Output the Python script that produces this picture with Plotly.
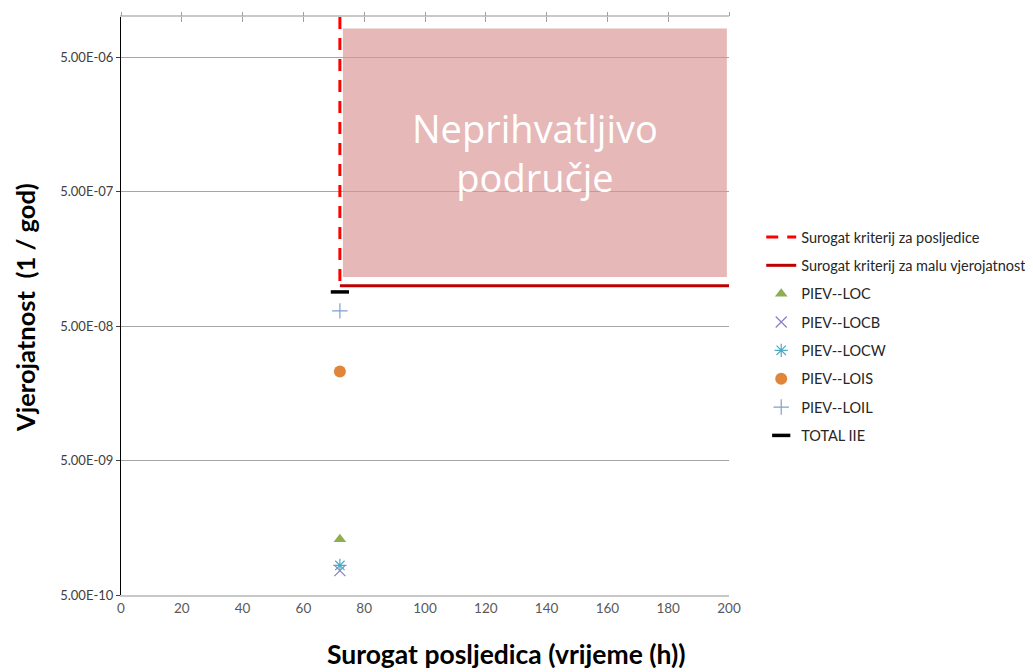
import plotly.graph_objects as go
import numpy as np

# ---- data ----
x_crit = 72            # surrogate consequence criterion (h)
y_crit = 1e-7          # surrogate low-probability criterion
x_max = 200
y_top = 1e-5
region_x = [73, 199.3]
region_y = [1.16e-7, 8.2e-6]
region_label = "Neprihvatljivo<br>područje"

series_names = ["PIEV--LOC", "PIEV--LOCB", "PIEV--LOCW", "PIEV--LOIS", "PIEV--LOIL", "TOTAL IIE"]
series_x = [72, 72, 72, 72, 72, 72]
series_y = [1.3e-9, 7.6e-10, 8.3e-10, 2.3e-8, 6.5e-8, 9.0e-8]

x_ticks = [0, 20, 40, 60, 80, 100, 120, 140, 160, 180, 200]
y_ticks = [5e-10, 5e-9, 5e-8, 5e-7, 5e-6]
y_ticktext = ["5.00E-10", "5.00E-09", "5.00E-08", "5.00E-07", "5.00E-06"]

# ---- styles ----
symbols = ["triangle-up", "x-thin-open", "asterisk-open", "circle", "cross-thin-open", "line-ew-open"]
colors = ["#8FAE52", "#8E7CC3", "#4BACC6", "#E0853A", "#7F9FCF", "#000000"]
sizes = [11, 11, 11, 12, 11, 13]
lwidths = [0, 1.2, 1.2, 0, 1.2, 3.5]

FONT = "Lato"
fig = go.Figure()

fig.add_shape(type="rect", x0=region_x[0], x1=region_x[1], y0=region_y[0], y1=region_y[1],
              xref="x", yref="y", fillcolor="#E6B8B7", line=dict(width=0), layer="below")
fig.add_annotation(x=float(np.mean(region_x)), y=float(np.mean(np.log10(region_y))),
                   xref="x", yref="y", text=region_label, showarrow=False,
                   font=dict(family="Open Sans", size=38, color="white"))

fig.add_trace(go.Scatter(x=[x_crit, x_crit], y=[y_top, y_crit], mode="lines",
                         name="Surogat kriterij za posljedice", legendgroup="a",
                         line=dict(color="#FF0000", width=3, dash="12px,9px")))
fig.add_trace(go.Scatter(x=[x_crit, x_max], y=[y_crit, y_crit], mode="lines",
                         name="Surogat kriterij za malu vjerojatnost", legendgroup="b",
                         line=dict(color="#C00000", width=3)))
for i, n in enumerate(series_names):
    fig.add_trace(go.Scatter(x=[series_x[i]], y=[series_y[i]], mode="markers", name=n,
                             legendgroup="g%d" % i,
                             marker=dict(symbol=symbols[i], color=colors[i], size=sizes[i],
                                         line=dict(color=colors[i], width=lwidths[i]))))

# dummy traces for top axes
for ax in ["x2", "x3"]:
    fig.add_trace(go.Scatter(x=[0], y=[1e-9], xaxis=ax, mode="markers", showlegend=False,
                             marker=dict(opacity=0), hoverinfo="skip"))

W, H = 1025, 664  # page body adds an 8px margin
fig.update_layout(
    width=W, height=H,
    margin=dict(l=113, r=304, t=9, b=77, autoexpand=False),
    paper_bgcolor="white", plot_bgcolor="white",
    font=dict(family=FONT, size=13, color="#404040"),
    showlegend=True,
    legend=dict(x=1.053, y=0.647, xanchor="left", yanchor="top", tracegroupgap=6.5,
                font=dict(family=FONT, size=14.5, color="#262626"), bgcolor="rgba(0,0,0,0)"),
    xaxis=dict(range=[0, 200], tickvals=x_ticks, showgrid=False, zeroline=False,
               showline=True, linecolor="#C8C8C8", linewidth=1.5, ticks="",
               tickfont=dict(family=FONT, size=13.5, color="#595959")),
    xaxis2=dict(range=[0, 200], tickvals=x_ticks, overlaying="x", side="top", anchor="y",
                showgrid=False, zeroline=False, showline=True, linecolor="#C8C8C8", linewidth=1.5,
                ticks="inside", ticklen=5, tickcolor="#A0A0A0", showticklabels=False),
    xaxis3=dict(range=[0, 200], tickvals=x_ticks, overlaying="x", side="top", anchor="y",
                showgrid=False, zeroline=False, showline=False,
                ticks="outside", ticklen=4, tickcolor="#A0A0A0", showticklabels=False),
    yaxis=dict(type="log", range=[np.log10(5e-10), np.log10(y_top)], tickvals=y_ticks,
               ticktext=y_ticktext, showgrid=True, gridcolor="#A6A6A6", gridwidth=1,
               zeroline=False, showline=True, linecolor="#000000", linewidth=1.2,
               ticks="outside", ticklen=4, tickcolor="#404040",
               tickfont=dict(family=FONT, size=13, color="#404040")),
)
fig.add_annotation(text="<b>Surogat posljedica (vrijeme (h))</b>", xref="paper", yref="paper",
                   x=(507 - 121) / 608, y=(595 - 654) / 578, xanchor="center", yanchor="middle",
                   showarrow=False, font=dict(family=FONT, size=26.5, color="#000000"))
fig.add_annotation(text="<b>Vjerojatnost  (1 / god)</b>", xref="paper", yref="paper",
                   x=(25 - 121) / 608, y=(595 - 308) / 578, xanchor="center", yanchor="middle",
                   textangle=-90, showarrow=False, font=dict(family=FONT, size=25.5, color="#000000"))

fig.write_html("out.html")
